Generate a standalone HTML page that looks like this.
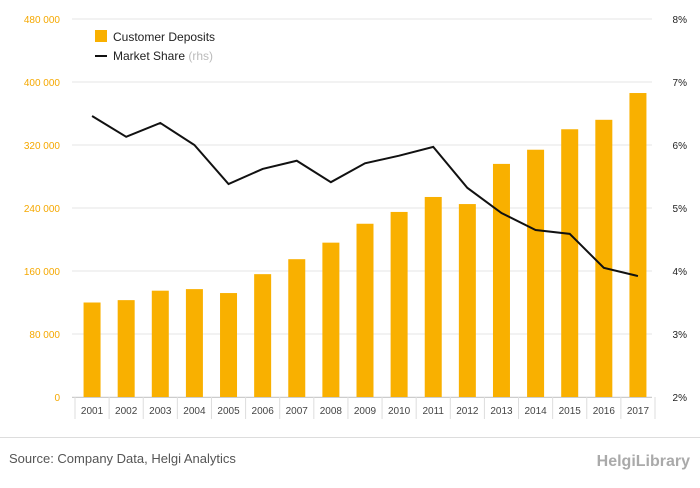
<!DOCTYPE html>
<html><head><meta charset="utf-8"><style>
body{margin:0;background:#fff;font-family:"Liberation Sans",sans-serif;}
</style></head><body>
<svg id="chart" width="700" height="483" xmlns="http://www.w3.org/2000/svg" font-family="Liberation Sans, sans-serif"></svg>
<script>
const years=["2001","2002","2003","2004","2005","2006","2007","2008","2009","2010","2011","2012","2013","2014","2015","2016","2017"];
const deposits=[120000,123000,135000,137000,132000,156000,175000,196000,220000,235000,254000,245000,296000,314000,340000,352000,386000];
const share=[6.46,6.13,6.35,6.0,5.38,5.62,5.75,5.41,5.71,5.83,5.97,5.32,4.92,4.65,4.59,4.05,3.92];
const leftTicks=[0,80000,160000,240000,320000,400000,480000];
const leftLabels=["0","80 000","160 000","240 000","320 000","400 000","480 000"];
const rightTicks=[2,3,4,5,6,7,8];
const rightLabels=["2%","3%","4%","5%","6%","7%","8%"];

const svg=document.getElementById('chart');
const NS="http://www.w3.org/2000/svg";
const X0=75,X1=655,Y0=397,Y1=19,G0=72,G1=652;
const band=(X1-X0)/years.length;
const xc=i=>X0+band*(i+0.5);
const yL=v=>Y0-(v/480000)*(Y0-Y1);
const yR=v=>Y0-((v-2)/6)*(Y0-Y1);
function el(t,a,txt){const e=document.createElementNS(NS,t);for(const k in a)e.setAttribute(k,a[k]);if(txt!=null)e.textContent=txt;svg.appendChild(e);return e;}

leftTicks.forEach((t,i)=>{
  const g=el('line',{x1:G0,x2:G1,y1:yL(t),y2:yL(t),stroke:'#e6e6e6','stroke-width':1});
  
  
  const l=el('text',{x:60,y:yL(t)+4,'text-anchor':'end','font-size':10,fill:'#f5a800'},leftLabels[i]);
  
  
});
rightTicks.forEach((t,i)=>{
  const l=el('text',{x:687,y:yR(t)+4,'text-anchor':'end','font-size':10,fill:'#222'},rightLabels[i]);
  
  
});
const ax=el('line',{x1:G0,x2:G1,y1:Y0+0.5,y2:Y0+0.5,stroke:'#ccc'});


years.forEach((y,i)=>{
  const tk=el('line',{x1:X0+band*i,x2:X0+band*i,y1:Y0,y2:Y0+22,stroke:'#ddd'});
  
  
  const b=el('rect',{x:xc(i)-8.5,y:yL(deposits[i]),width:17,height:Y0-yL(deposits[i]),fill:'#f9b000'});
  
  
  const l=el('text',{x:xc(i),y:414,'text-anchor':'middle','font-size':10,fill:'#444'},y);
  
  
});
const tkE=el('line',{x1:X1,x2:X1,y1:Y0,y2:Y0+22,stroke:'#ddd'});


const pl=el('polyline',{points:share.map((v,i)=>xc(i)+','+yR(v)).join(' '),fill:'none',stroke:'#111','stroke-width':2});



const lg1=el('rect',{x:95,y:30,width:12,height:12,fill:'#f9b000'});


const lt1=el('text',{x:113,y:41,'font-size':12,fill:'#222'},'Customer Deposits');


const lg2=el('line',{x1:95,x2:107,y1:56,y2:56,stroke:'#111','stroke-width':2});


const lt2=el('text',{x:113,y:60,'font-size':12,fill:'#222'},'Market Share ');


const ts=document.createElementNS(NS,'tspan');ts.setAttribute('fill','#bbb');ts.textContent='(rhs)';lt2.appendChild(ts);

const hr=el('line',{x1:0,x2:700,y1:437.5,y2:437.5,stroke:'#ddd'});


const src=el('text',{x:9,y:463,'font-size':13,fill:'#555'},'Source: Company Data, Helgi Analytics');


const logo=el('text',{x:690,y:466,'text-anchor':'end','font-size':16,fill:'#aaa','font-weight':'bold'},'HelgiLibrary');


</script>
</body></html>
